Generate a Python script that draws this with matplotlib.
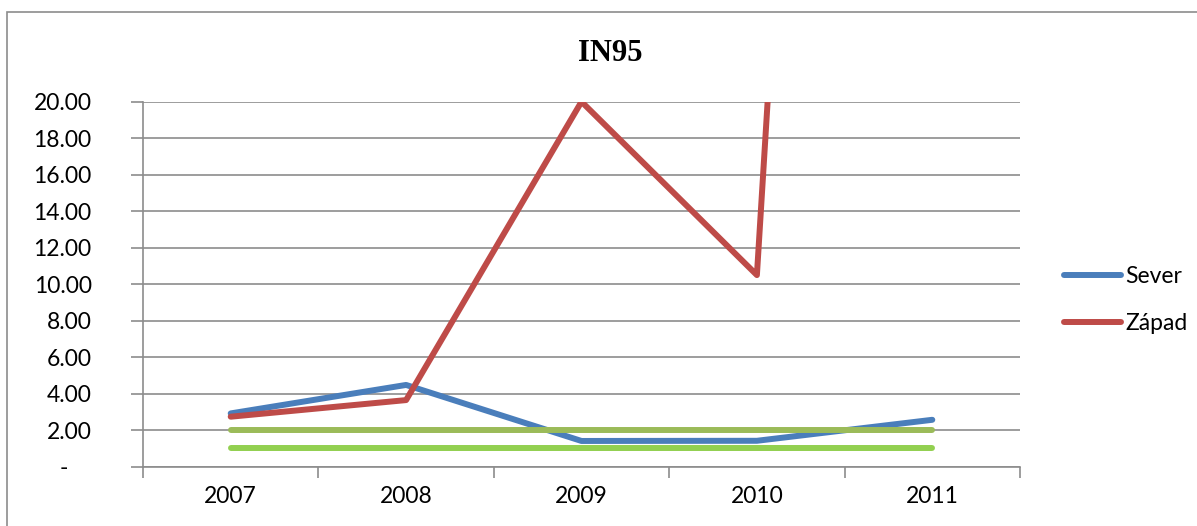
import numpy as np
import matplotlib.pyplot as plt
from matplotlib.patches import Rectangle

# =========================
# data
# =========================
years = ["2007", "2008", "2009", "2010", "2011"]
sever = [2.92, 4.48, 1.41, 1.42, 2.57]
zapad = [2.74, 3.65, 20.0, 10.5, 166.0]   # last point is far off the top, clipped
limit_hi = [2.0, 2.0, 2.0, 2.0, 2.0]
limit_lo = [1.0, 1.0, 1.0, 1.0, 1.0]
yticks = np.arange(0, 21, 2)

# =========================
# figure / axes layout (pixel based, 100 dpi)
# =========================
W, H = 1197, 526
fig = plt.figure(figsize=(W / 100, H / 100), dpi=100)
ax = fig.add_axes([143 / W, (H - 466.7) / H, (1020 - 143) / W, (466.7 - 101.7) / H])

font = ["Lato", "DejaVu Sans"]
fs = 16.5
grid_c = "#8c8c8c"

x = np.arange(len(years))
ax.plot(x, sever, color="#4a7ebb", lw=4.3, solid_capstyle="round", label="Sever", zorder=3)
ax.plot(x, zapad, color="#be4b48", lw=4.3, solid_capstyle="round", label="Západ", zorder=3)
ax.plot(x, limit_hi, color="#9bbb59", lw=4.3, solid_capstyle="round", label="_nolegend_", zorder=4)
ax.plot(x, limit_lo, color="#92d050", lw=4.3, solid_capstyle="round", label="_nolegend_", zorder=4)

ax.set_xlim(-0.5, len(years) - 0.5)
ax.set_ylim(0, 20)

# y axis: gridlines + ticks
ax.set_yticks(yticks)
ax.set_yticklabels(["-    " if v == 0 else f"{v:.2f}" for v in yticks], family=font, fontsize=fs)
ax.yaxis.grid(True, color=grid_c, lw=1.2, zorder=0)
ax.tick_params(axis="y", length=9, width=1.2, color=grid_c, pad=28)

# x axis: ticks between categories, labels at centres
ax.set_xticks(np.arange(-0.5, len(years)))
ax.set_xticklabels([])
ax.set_xticks(x, minor=True)
ax.set_xticklabels(years, minor=True, family=font, fontsize=fs)
ax.tick_params(axis="x", which="major", length=8, width=1.2, color=grid_c)
ax.tick_params(axis="x", which="minor", length=0, pad=14)

for s in ["top", "right"]:
    ax.spines[s].set_visible(False)
for s in ["left", "bottom"]:
    ax.spines[s].set_color(grid_c)
    ax.spines[s].set_linewidth(1.2)
ax.set_axisbelow(True)

# title
fig.text(610 / W, 1 - 61 / H, "IN95", family="Liberation Serif", fontweight="bold",
         fontsize=22, ha="center", va="baseline")

# legend
ax.legend(loc="center left", bbox_to_anchor=(1053 / W, 1 - 300 / H), bbox_transform=fig.transFigure,
          frameon=False, prop={"family": font, "size": fs}, borderpad=0,
          handlelength=2.45, handletextpad=0.2, labelspacing=1.1)

# chart area border
fig.add_artist(Rectangle((7 / W, -0.1), 1.2, 1.1 - 12 / H, transform=fig.transFigure,
                         fill=False, edgecolor="#8c8c8c", lw=1.2))

fig.savefig("out.png", dpi=100)
